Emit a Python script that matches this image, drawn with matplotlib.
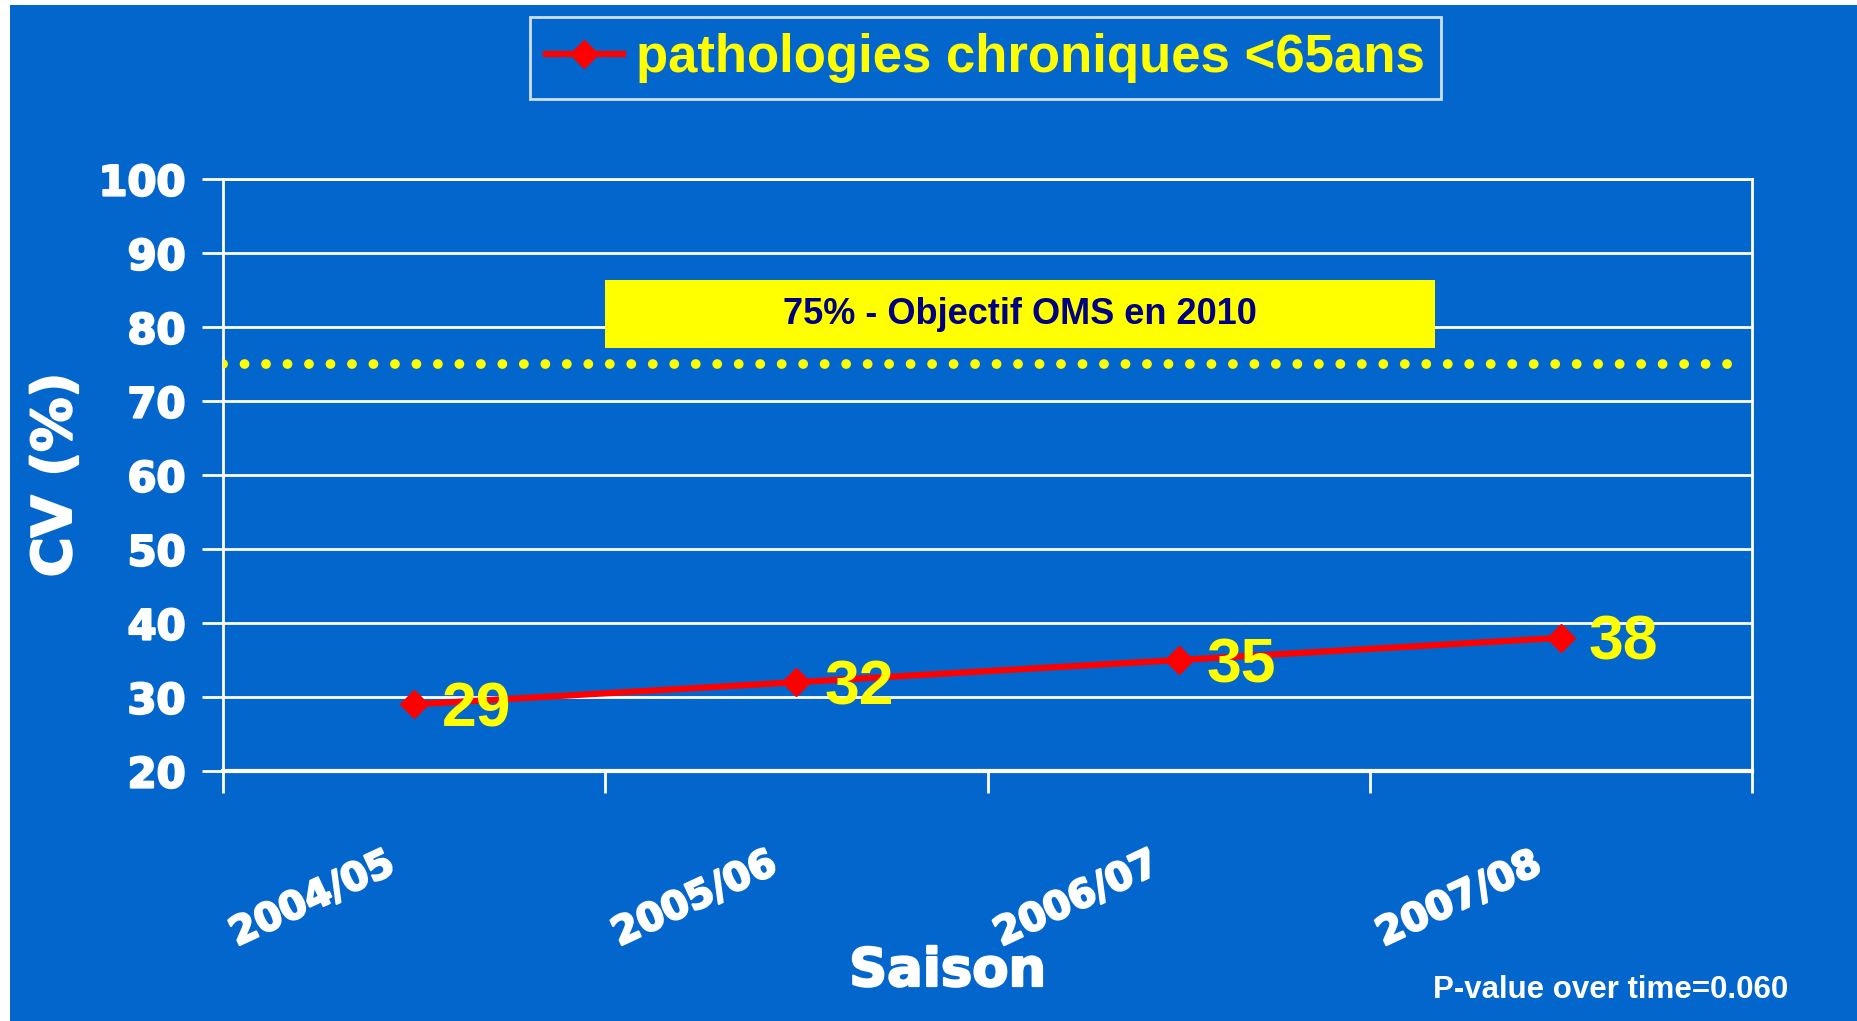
import matplotlib
matplotlib.use("Agg")
import matplotlib.pyplot as plt
import matplotlib.patheffects as pe
from matplotlib.patches import Rectangle
from matplotlib.lines import Line2D
from matplotlib.transforms import ScaledTranslation

# ---- data ----
seasons = ["2004/05", "2005/06", "2006/07", "2007/08"]
coverage = [29, 32, 35, 38]
series_name = "pathologies chroniques <65ans"
target_value = 75
target_text = "75% - Objectif OMS en 2010"
y_ticks = [20, 30, 40, 50, 60, 70, 80, 90, 100]
y_label = "CV (%)"
x_label = "Saison"
pvalue_text = "P-value over time=0.060"

BLUE = "#0366CC"
YELLOW = "#FFFF00"
RED = "#FF0000"
NAVY = "#000080"
HEAVY = dict(family=["DejaVu Sans"], weight="bold")
BOLD = dict(family=["Liberation Sans", "DejaVu Sans"], weight="bold")
THICK = [pe.withStroke(linewidth=1.6, foreground="white")]

fig = plt.figure(figsize=(18.57, 10.21), dpi=100, facecolor="white")
# blue slide background with thin white margin at left/top
fig.patches.append(Rectangle((10 / 1857, 0), 1 - 10 / 1857, 1 - 5 / 1021,
                             transform=fig.transFigure, facecolor=BLUE,
                             edgecolor="none", zorder=-10))

ax = fig.add_axes([223 / 1857, 1 - 771 / 1021, (1752 - 223) / 1857, (771 - 179) / 1021])
ax.set_facecolor(BLUE)
x = list(range(len(seasons)))
ax.set_xlim(-0.5, len(seasons) - 0.5)
ax.set_ylim(20, 100)

# grid / spines
ax.set_yticks(y_ticks)
ax.set_yticklabels([str(v) for v in y_ticks], color="white", fontsize=30,
                   path_effects=THICK, **HEAVY)
ax.yaxis.grid(True, color="white", linewidth=2)
ax.set_axisbelow(True)
for s in ax.spines.values():
    s.set_color("white")
    s.set_linewidth(2)
ax.spines["bottom"].set_linewidth(3)
ax.tick_params(axis="y", colors="white", length=15, width=2, pad=12)

ax.set_xticks(x)
ax.set_xticks([i - 0.5 for i in range(len(seasons) + 1)], minor=True)
ax.tick_params(axis="x", which="major", length=0, pad=53)
ax.tick_params(axis="x", which="minor", length=16, width=2, color="white")
ax.set_xticklabels(seasons, rotation=25, ha="right", va="top", rotation_mode="anchor",
                   color="white", fontsize=28, path_effects=THICK, **HEAVY)
shift = ScaledTranslation(-30 / 100, 0, fig.dpi_scale_trans)
for lbl in ax.get_xticklabels():
    lbl.set_transform(lbl.get_transform() + shift)

# target line
ax.plot([-0.5, 3.45], [target_value, target_value], color=YELLOW, linewidth=7,
        linestyle=(0, (0.01, 2.2)), dash_capstyle="round", zorder=3)
ax.add_patch(Rectangle((0.5, 77.1), 2.17, 9.2, facecolor=YELLOW, edgecolor="none", zorder=4))
ax.text(1.585, 81.7, target_text, ha="center", va="center", color=NAVY,
        fontsize=26, zorder=5, **BOLD)

# series
ax.plot(x, coverage, color=RED, linewidth=4.5, marker="D", markersize=14,
        markeredgecolor=RED, zorder=6, clip_on=False)
for xi, yi in zip(x, coverage):
    ax.annotate(str(yi), (xi, yi), xytext=(20, -4), textcoords="offset points",
                ha="left", va="center", color=YELLOW, fontsize=45, zorder=7, **BOLD)

ax.set_ylabel(y_label, color="white", fontsize=39, labelpad=12, path_effects=THICK, **HEAVY)
fig.text(800 * 1857 / 1568 / 1857, 1 - 971 / 1021, x_label, ha="center", va="center",
         color="white", fontsize=38, path_effects=THICK, **HEAVY)
fig.text(1788 / 1857, 1 - 990 / 1021, pvalue_text, ha="right", va="center",
         color="white", fontsize=22.5, **BOLD)

# legend
handle = Line2D([], [], color=RED, linewidth=4.5, marker="D", markersize=14)
leg = fig.legend([handle], [series_name], loc="center",
                 bbox_to_anchor=((532 + 1439) / 2 / 1857, 1 - 58 / 1021),
                 frameon=True, fancybox=False, facecolor=BLUE, edgecolor="white",
                 handlelength=1.45, handletextpad=0.25, borderpad=0.3,
                 prop=dict(family=["Liberation Sans"], weight="bold", size=38))
leg.get_frame().set_linewidth(2)
for t in leg.get_texts():
    t.set_color(YELLOW)

fig.savefig("out.png", dpi=100, facecolor="white")
